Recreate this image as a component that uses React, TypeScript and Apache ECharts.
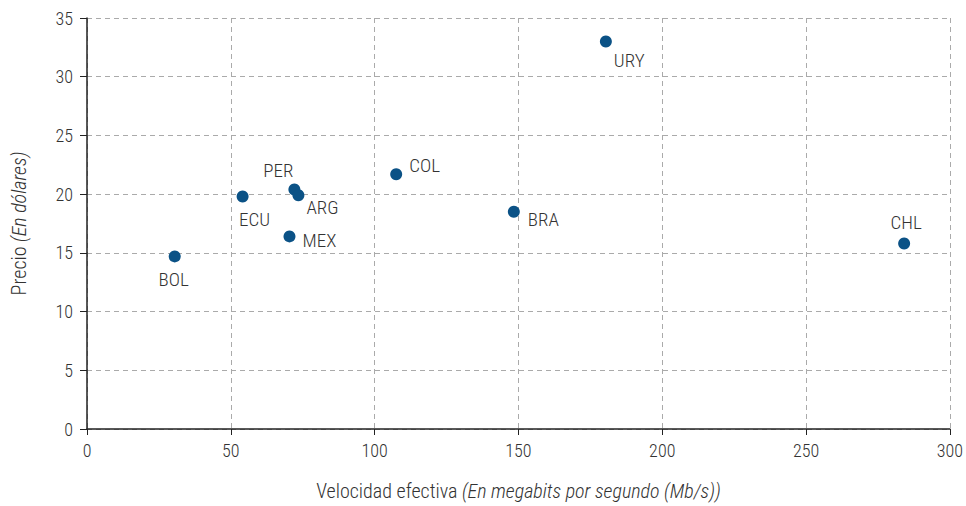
import React, { useEffect, useRef } from "react";
import * as echarts from "echarts";

const countries = ["BOL", "ECU", "PER", "ARG", "MEX", "COL", "BRA", "URY", "CHL"];
const speed = [30.5, 54.1, 72.1, 73.5, 70.4, 107.5, 148.4, 180.4, 284.1];
const price = [14.7, 19.8, 20.4, 19.9, 16.4, 21.7, 18.5, 33.0, 15.8];
const labelPos: { position: string; offset: [number, number] }[] = [
  { position: "bottom", offset: [-1, 3] },
  { position: "bottom", offset: [12, 3] },
  { position: "top", offset: [-16, 2] },
  { position: "right", offset: [-3, 12] },
  { position: "right", offset: [2, 4] },
  { position: "right", offset: [2, -9] },
  { position: "right", offset: [3, 8] },
  { position: "right", offset: [-3, 19] },
  { position: "top", offset: [2, 0] },
];

const FONT = "'Roboto Condensed', 'Liberation Sans Narrow', 'DejaVu Sans Condensed', Roboto, sans-serif";
const TXT = "#333333";
const W = 300;

export default function App() {
  const ref = useRef<HTMLDivElement>(null);
  useEffect(() => {
    const chart = echarts.init(ref.current!, null, { renderer: "svg" });
    const nameRich = {
      n: { fontSize: 20, color: TXT, fontFamily: FONT, fontWeight: W },
      i: { fontSize: 20, color: TXT, fontStyle: "italic", fontFamily: FONT, fontWeight: W },
    };
    chart.setOption({
      animation: false,
      textStyle: { fontFamily: FONT },
      grid: { left: 87, right: 14, top: 18, bottom: 75 },
      xAxis: {
        type: "value",
        min: 0,
        max: 300,
        interval: 50,
        name: "{n|Velocidad efectiva }{i|(En megabits por segundo (Mb/s))}",
        nameLocation: "middle",
        nameGap: 52,
        nameTextStyle: { rich: nameRich },
        axisLine: { show: true, lineStyle: { color: "#222", width: 1.5 } },
        axisTick: { show: true, length: 6, lineStyle: { color: "#222" } },
        axisLabel: { fontSize: 18, color: TXT, margin: 12, fontFamily: FONT, fontWeight: W },
        splitLine: { show: true, lineStyle: { type: [5, 4], color: "#aaa", width: 1 } },
      },
      yAxis: {
        type: "value",
        min: 0,
        max: 35,
        interval: 5,
        name: "{n|Precio }{i|(En dólares)}",
        nameLocation: "middle",
        nameGap: 58,
        nameTextStyle: { rich: nameRich },
        axisLine: { show: true, lineStyle: { color: "#222", width: 1.5 } },
        axisTick: { show: true, length: 7, lineStyle: { color: "#222" } },
        axisLabel: { fontSize: 18, color: TXT, margin: 14, fontFamily: FONT, fontWeight: W },
        splitLine: { show: true, lineStyle: { type: [5, 4], color: "#aaa", width: 1 } },
      },
      series: [
        {
          type: "scatter",
          symbolSize: 12,
          itemStyle: { color: "#0B5286", opacity: 1 },
          data: countries.map((c, i) => ({
            value: [speed[i], price[i]],
            name: c,
            label: {
              show: true,
              formatter: c,
              position: labelPos[i].position,
              offset: labelPos[i].offset,
              fontSize: 19,
              color: TXT,
              fontFamily: FONT,
              fontWeight: W,
            },
          })),
        },
      ],
    });
    return () => chart.dispose();
  }, []);
  return <div ref={ref} style={{ width: 966, height: 506, position: "absolute", left: 0, top: 0 }} />;
}
